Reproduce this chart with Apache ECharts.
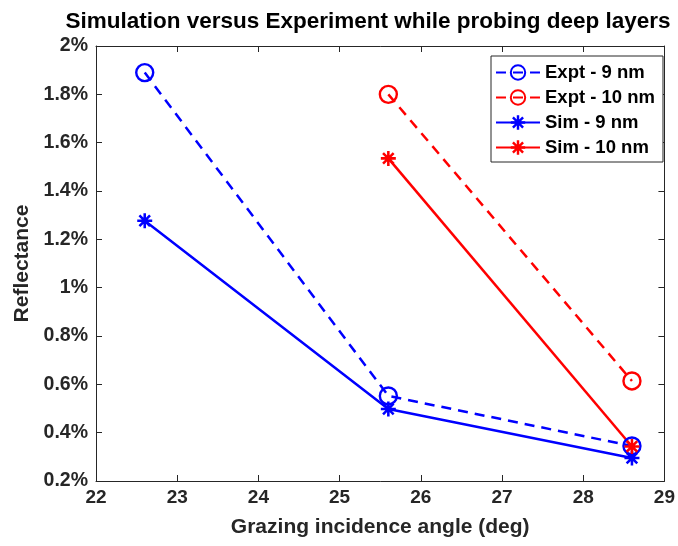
<!DOCTYPE html>
<html>
<head>
<meta charset="utf-8">
<script src="https://cdn.jsdelivr.net/npm/echarts@6/dist/echarts.min.js"></script>
<style>html,body{margin:0;padding:0;background:#fff}#c{width:678px;height:546px}</style>
</head>
<body>
<div id="c"></div>
<script>
var angles9 = [22.6, 25.6, 28.6];
var angles10 = [25.6, 28.6];
var expt9 = [1.89, 0.552, 0.345];
var expt10 = [1.80, 0.614];
var sim9 = [1.277, 0.498, 0.295];
var sim10 = [1.535, 0.343];
var seriesNames = ['Expt - 9 nm', 'Expt - 10 nm', 'Sim - 9 nm', 'Sim - 10 nm'];
var titleText = 'Simulation versus Experiment while probing deep layers';
var xTitle = 'Grazing incidence angle (deg)';
var yTitle = 'Reflectance';

function pairs(xs, ys){ return xs.map(function(x,i){ return [x, ys[i]]; }); }

var star = 'path://M-1.7,-10 L1.7,-10 L1.7,10 L-1.7,10 Z ' +
  'M-10,-1.7 L10,-1.7 L10,1.7 L-10,1.7 Z ' +
  'M-8.27,-5.87 L-5.87,-8.27 L8.27,5.87 L5.87,8.27 Z ' +
  'M-5.87,8.27 L-8.27,5.87 L5.87,-8.27 L8.27,-5.87 Z';

var font = '"Liberation Sans", Arial, sans-serif';
var txt = '#262626';
var axisCol = '#262626';

function lineSeries(name, data, color, dashed, isSim){
  return {
    name: name, type: 'line', data: data, xAxisIndex: 0, yAxisIndex: 0,
    color: color,
    lineStyle: {color: color, width: 2.5, type: dashed ? [10, 7] : 'solid'},
    symbol: isSim ? star : 'circle',
    symbolSize: isSim ? 15 : 17,
    symbolKeepAspect: true,
    itemStyle: isSim ? {color: color} : {color: 'rgba(0,0,0,0)', borderColor: color, borderWidth: 2.4},
    emphasis: {disabled: true},
    animation: false
  };
}

var chart = echarts.init(document.getElementById('c'), null, {renderer: 'canvas'});
chart.setOption({
  backgroundColor: '#fff',
  animation: false,
  title: {
    text: titleText, left: 363, top: 5, textAlign: 'center',
    textStyle: {fontFamily: font, fontWeight: 'bold', fontSize: 22.5, color: '#000'}
  },
  legend: {
    data: seriesNames, orient: 'vertical', left: 491, top: 56,
    itemWidth: 44, itemHeight: 18, itemGap: 6,
    padding: [7, 8, 5, 4],
    borderColor: '#262626', borderWidth: 1, backgroundColor: '#fff',
    textStyle: {fontFamily: font, fontWeight: 'bold', fontSize: 18.5, color: '#000'}
  },
  grid: {left: 96, right: 10, top: 46, bottom: 65, containLabel: false},
  xAxis: [{
    type: 'value', min: 22, max: 29, interval: 1, position: 'bottom',
    name: xTitle, nameLocation: 'middle', nameGap: 36,
    nameTextStyle: {fontFamily: font, fontWeight: 'bold', fontSize: 21, color: txt},
    axisLine: {show: true, onZero: false, lineStyle: {color: axisCol, width: 1}},
    axisTick: {show: true, inside: true, length: 6, lineStyle: {color: axisCol}},
    axisLabel: {fontFamily: font, fontWeight: 'bold', fontSize: 19, color: txt, margin: 7},
    splitLine: {show: false}
  }, {
    type: 'value', min: 22, max: 29, interval: 1, position: 'top',
    axisLine: {show: true, onZero: false, lineStyle: {color: axisCol, width: 1}},
    axisTick: {show: true, inside: true, length: 6, lineStyle: {color: axisCol}},
    axisLabel: {show: false}, splitLine: {show: false}
  }],
  yAxis: [{
    type: 'value', min: 0.2, max: 2, interval: 0.2, position: 'left',
    name: yTitle, nameLocation: 'middle', nameGap: 61, nameRotate: 90,
    nameTextStyle: {fontFamily: font, fontWeight: 'bold', fontSize: 21, color: txt},
    axisLine: {show: true, onZero: false, lineStyle: {color: axisCol, width: 1}},
    axisTick: {show: true, inside: true, length: 6, lineStyle: {color: axisCol}},
    axisLabel: {fontFamily: font, fontWeight: 'bold', fontSize: 19.5, color: txt, margin: 8,
      formatter: function(v){ return (Math.round(v*10)/10) + '%'; }},
    splitLine: {show: false}
  }, {
    type: 'value', min: 0.2, max: 2, interval: 0.2, position: 'right',
    axisLine: {show: true, onZero: false, lineStyle: {color: axisCol, width: 1}},
    axisTick: {show: true, inside: true, length: 6, lineStyle: {color: axisCol}},
    axisLabel: {show: false}, splitLine: {show: false}
  }],
  series: [
    lineSeries(seriesNames[0], pairs(angles9, expt9), '#0000ff', true, false),
    lineSeries(seriesNames[1], pairs(angles10, expt10), '#ff0000', true, false),
    lineSeries(seriesNames[2], pairs(angles9, sim9), '#0000ff', false, true),
    lineSeries(seriesNames[3], pairs(angles10, sim10), '#ff0000', false, true)
  ]
});
</script>
</body>
</html>
